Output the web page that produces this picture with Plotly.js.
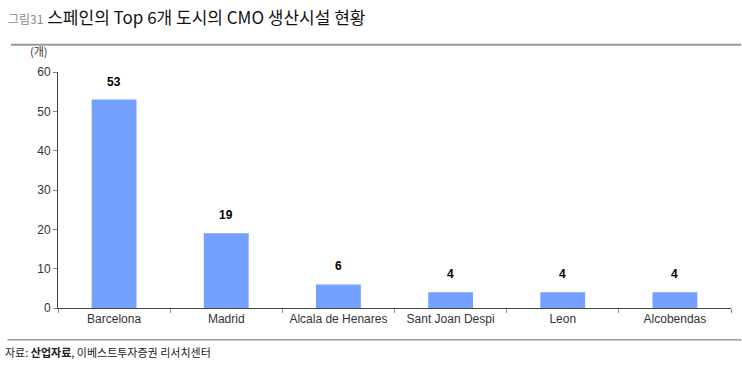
<!DOCTYPE html>
<html>
<head>
<meta charset="utf-8">
<script src="https://cdn.plot.ly/plotly-3.0.1.min.js"></script>
<style>html,body{margin:0;padding:0;background:#fff;}#chart{width:742px;height:376px;}</style>
</head>
<body>
<div id="chart"></div>
<script>
const categories = ["Barcelona", "Madrid", "Alcala de Henares", "Sant Joan Despi", "Leon", "Alcobendas"];
const values = [53, 19, 6, 4, 4, 4];
const yTicks = [0, 10, 20, 30, 40, 50, 60];

const trace = {
  type: "bar",
  x: categories,
  y: values,
  marker: {color: "#74A0FF"},
  hoverinfo: "none"
};

const labelAnnotations = categories.map((c, i) => ({
  x: c, y: values[i], xref: "x", yref: "y",
  text: "<b>" + values[i] + "</b>",
  showarrow: false, yanchor: "bottom", yshift: 9,
  font: {family: "Liberation Sans, Arial, sans-serif", size: 12, color: "#000"}
}));

const layout = {
  width: 742, height: 376,
  margin: {l: 58, r: 11, t: 72, b: 68},
  paper_bgcolor: "#fff", plot_bgcolor: "#fff",
  showlegend: false,
  bargap: 0.6,
  font: {family: "Liberation Sans, Arial, sans-serif", size: 12, color: "#333"},
  xaxis: {
    type: "category",
    showline: true, linecolor: "#444", linewidth: 1,
    ticks: "outside", tickson: "boundaries", ticklen: 4, tickcolor: "#888",
    tickfont: {size: 12, color: "#333"},
    showgrid: false, zeroline: false, fixedrange: true
  },
  yaxis: {
    range: [0, 60],
    tickvals: yTicks,
    showline: true, linecolor: "#444", linewidth: 1,
    ticks: "outside", ticklen: 4, tickcolor: "#888",
    tickfont: {size: 12, color: "#333"},
    showgrid: false, zeroline: false, fixedrange: true
  },
  shapes: [
    {type: "line", xref: "paper", yref: "paper", x0: -0.07, x1: 1.015, y0: 1.115, y1: 1.115, line: {color: "#999", width: 2}},
    {type: "line", xref: "paper", yref: "paper", x0: -0.075, x1: 1.015, y0: -0.135, y1: -0.135, line: {color: "#666", width: 1}}
  ],
  annotations: labelAnnotations.concat([
    {xref: "paper", yref: "paper", x: -0.078, y: 1.235, xanchor: "left", yanchor: "middle", showarrow: false,
     text: "<span style='font-size:12px;color:#888'>그림31</span> <span style='font-size:17px;color:#111'>스페인의 Top 6개 도시의 CMO 생산시설 현황</span>",
     font: {family: "Noto Sans CJK KR, Noto Sans, sans-serif", size: 17, color: "#111"}},
    {xref: "paper", yref: "paper", x: -0.045, y: 1.09, xanchor: "left", yanchor: "middle", showarrow: false,
     text: "(개)", font: {family: "Noto Sans CJK KR, sans-serif", size: 11, color: "#333"}},
    {xref: "paper", yref: "paper", x: -0.082, y: -0.185, xanchor: "left", yanchor: "middle", showarrow: false,
     text: "자료: <b>산업자료</b>, 이베스트투자증권 리서치센터", font: {family: "Noto Sans CJK KR, sans-serif", size: 11, color: "#222"}}
  ])
};

Plotly.newPlot("chart", [trace], layout, {displayModeBar: false, staticPlot: true});
</script>
</body>
</html>
